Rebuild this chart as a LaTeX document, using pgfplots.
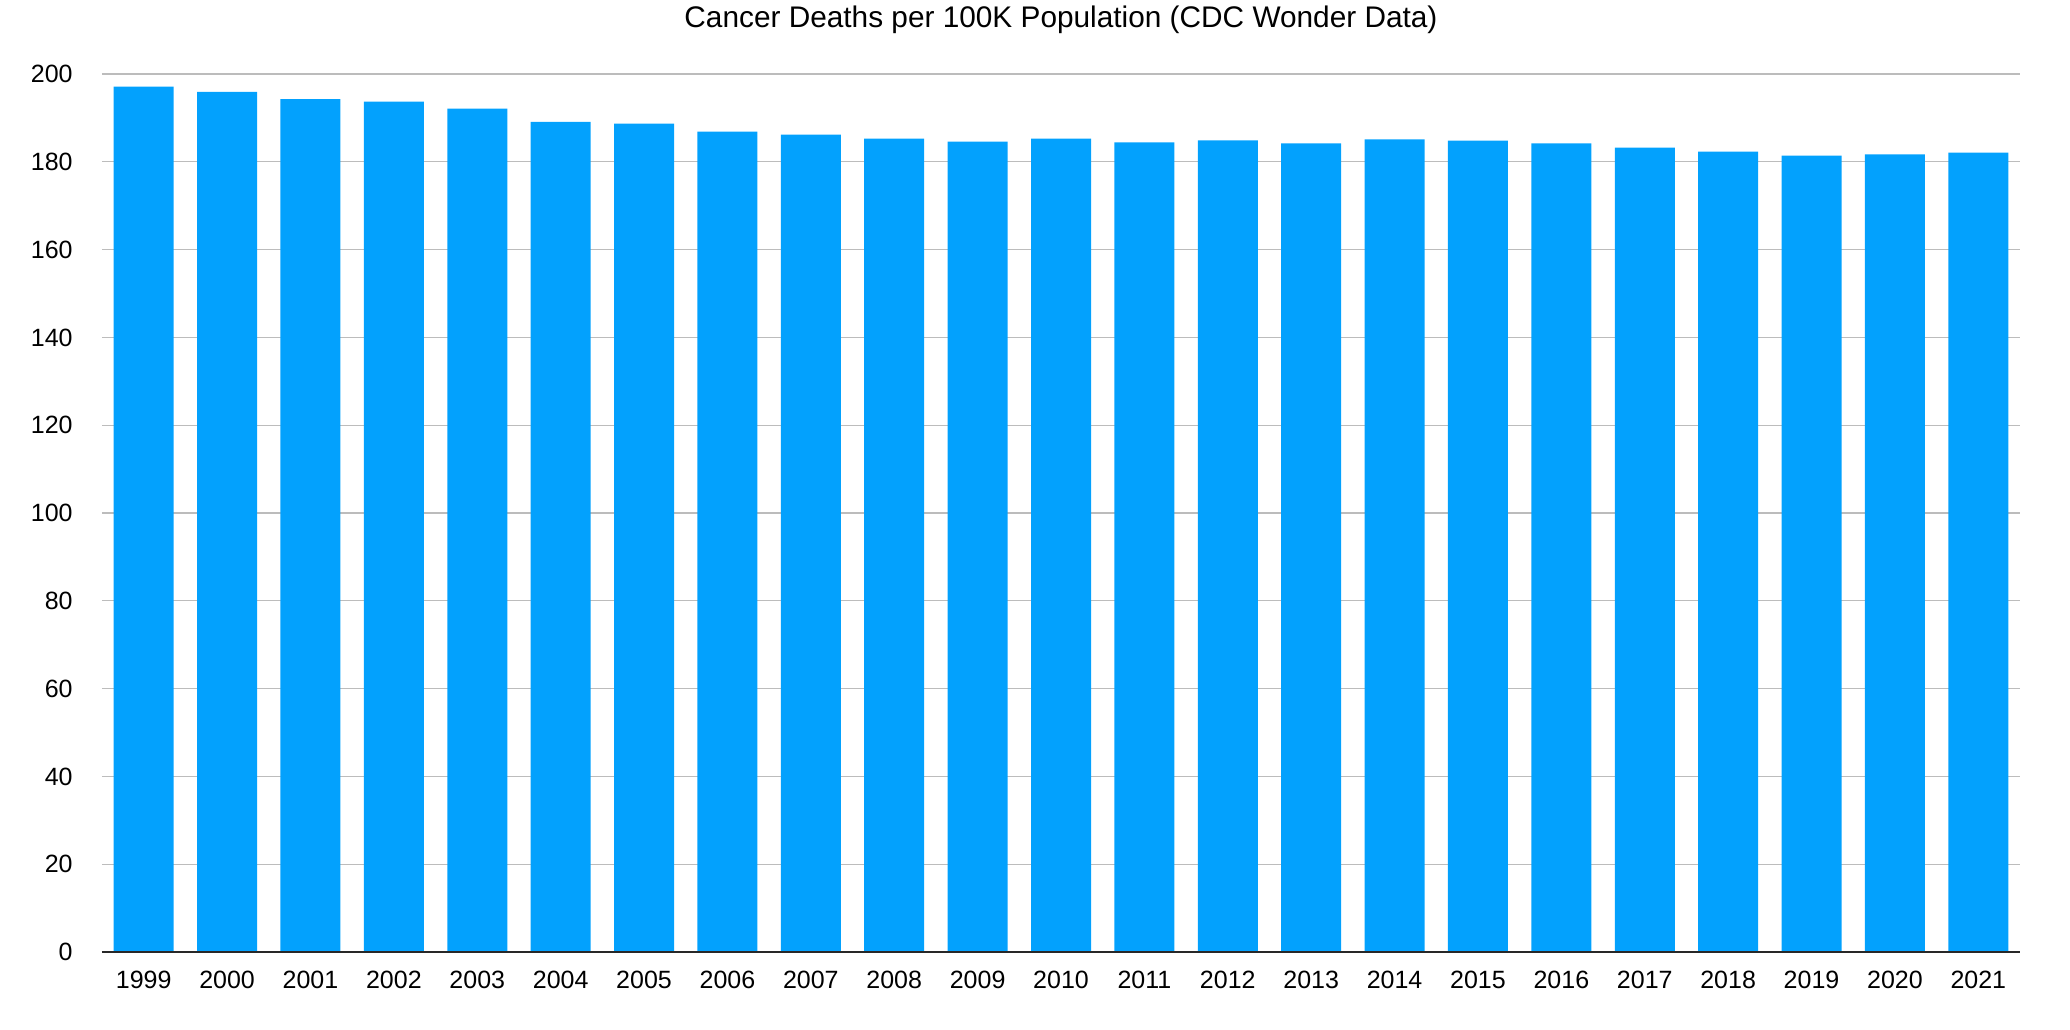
\documentclass[border=0pt]{standalone}
\usepackage{pgfplots}
\pgfplotsset{compat=1.18}
\usepackage{fontspec}
\setmainfont{Liberation Sans}
\definecolor{barblue}{RGB}{3,161,253}
\definecolor{gridgray}{RGB}{188,188,188}
\definecolor{axisdark}{RGB}{40,40,40}
\begin{document}
\begin{tikzpicture}
\begin{axis}[
  name=ax,
  scale only axis,
  width=959pt, height=439pt,
  xmin=-0.5, xmax=22.5,
  ymin=0, ymax=200,
  xtick={0,...,22},
  xticklabels={1999,2000,2001,2002,2003,2004,2005,2006,2007,2008,2009,2010,2011,2012,2013,2014,2015,2016,2017,2018,2019,2020,2021},
  ytick={0,20,...,200},
  yticklabels={0,20,40,60,80,100,120,140,160,180,200},
  major tick length=0pt,
  axis line style={draw=none},
  ymajorgrids,
  grid style={gridgray, line width=0.6pt},
  xticklabel style={font=\fontsize{12.5}{14}\selectfont, anchor=base, yshift=-18pt},
  yticklabel style={font=\fontsize{12.5}{14}\selectfont, anchor=east, inner sep=0pt, xshift=-14.5pt},
  title={Cancer Deaths per 100K Population (CDC Wonder Data)},
  title style={font=\fontsize{14.9}{17}\selectfont, at={(0.5,1)}, anchor=base, yshift=17.3pt},
  clip=false,
]
\addplot[ybar, bar width=30pt, fill=barblue, draw=none] coordinates {
(0,197.1) (1,195.9) (2,194.3) (3,193.7) (4,192.1) (5,189.1) (6,188.7) (7,186.9)
(8,186.2) (9,185.3) (10,184.6) (11,185.3) (12,184.4) (13,184.9) (14,184.2) (15,185.1)
(16,184.8) (17,184.2) (18,183.2) (19,182.3) (20,181.4) (21,181.7) (22,182.1)
};
\draw[axisdark, line width=1pt] (axis cs:-0.5,0) -- (axis cs:22.5,0);
\end{axis}
\pgfresetboundingbox
\path ([shift={(-51pt,-38.5pt)}]ax.south west) rectangle ([shift={(25pt,37pt)}]ax.north east);
\end{tikzpicture}
\end{document}
